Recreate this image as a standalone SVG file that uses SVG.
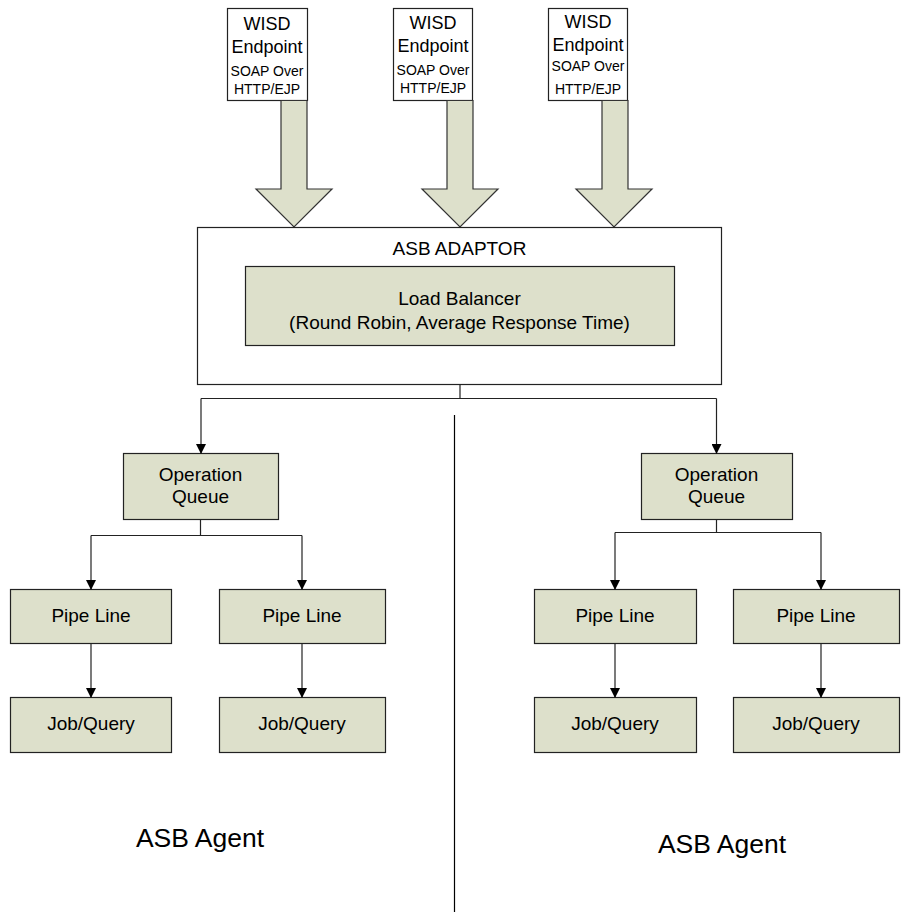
<svg xmlns="http://www.w3.org/2000/svg" width="901" height="913" viewBox="0 0 901 913">
<defs>
<marker id="ah" markerWidth="10" markerHeight="10" refX="9" refY="5" orient="auto" markerUnits="userSpaceOnUse">
<path d="M0,0 L10,5 L0,10 Z" fill="#000"/>
</marker>
<style>
.box{fill:#fff;stroke:#222;stroke-width:1.2}
.g{fill:#dde0cb;stroke:#222;stroke-width:1.2}
.big{fill:#dde0cb;stroke:#333;stroke-width:1.2}
.t{font-family:"Liberation Sans",Arial,sans-serif;fill:#000;text-anchor:middle}
.f19{font-size:19px}
.f18{font-size:18px}
.f14{font-size:14px}
.f26{font-size:26.5px}
.c{fill:none;stroke:#222;stroke-width:1.2}
</style>
</defs>
<rect width="901" height="913" fill="#fff"/>

<g id="wisd1">
<rect class="box" x="227.5" y="8.5" width="80" height="92"/>
<text class="t f18" x="267" y="30">WISD</text>
<text class="t f18" x="267" y="53">Endpoint</text>
<text class="t f14" x="267" y="76">SOAP Over</text>
<text class="t f14" x="267" y="94">HTTP/EJP</text>
</g>
<g id="wisd2">
<rect class="box" x="393.5" y="8.5" width="79" height="92"/>
<text class="t f18" x="433" y="29">WISD</text>
<text class="t f18" x="433" y="52">Endpoint</text>
<text class="t f14" x="433" y="75">SOAP Over</text>
<text class="t f14" x="433" y="93">HTTP/EJP</text>
</g>
<g id="wisd3">
<rect class="box" x="548.5" y="8.5" width="79" height="92"/>
<text class="t f18" x="588" y="28">WISD</text>
<text class="t f18" x="588" y="51">Endpoint</text>
<text class="t f14" x="588" y="71">SOAP Over</text>
<text class="t f14" x="588" y="94">HTTP/EJP</text>
</g>

<g id="bigarrows">
<polygon class="big" points="281,100.5 307,100.5 307,189 332,189 294,227 256,189 281,189"/>
<polygon class="big" points="447,100.5 473,100.5 473,189 498,189 460,227 422,189 447,189"/>
<polygon class="big" points="602,100.5 628,100.5 628,189 652,189 614,227 576,189 602,189"/>
</g>

<g id="adaptor">
<rect class="box" x="197.5" y="227.5" width="524" height="157"/>
<text class="t f19" x="459.5" y="255">ASB ADAPTOR</text>
</g>
<g id="loadbalancer">
<rect class="g" x="245.5" y="266.5" width="429" height="79"/>
<text class="t f19" x="459.5" y="305">Load Balancer</text>
<text class="t f19" x="459.5" y="329">(Round Robin, Average Response Time)</text>
</g>

<g id="oq1">
<rect class="g" x="123.5" y="453.5" width="155" height="66"/>
<text class="t f19" x="200.5" y="481">Operation</text>
<text class="t f19" x="200.5" y="503">Queue</text>
</g>
<g id="oq2">
<rect class="g" x="641.5" y="453.5" width="151" height="66"/>
<text class="t f19" x="716.5" y="481">Operation</text>
<text class="t f19" x="716.5" y="503">Queue</text>
</g>

<g id="pipe1">
<rect class="g" x="10.5" y="589.5" width="161" height="54"/>
<text class="t f19" x="91" y="622">Pipe Line</text>
</g>
<g id="pipe2">
<rect class="g" x="219.5" y="589.5" width="166" height="54"/>
<text class="t f19" x="302" y="622">Pipe Line</text>
</g>
<g id="pipe3">
<rect class="g" x="534.5" y="589.5" width="162" height="54"/>
<text class="t f19" x="615" y="622">Pipe Line</text>
</g>
<g id="pipe4">
<rect class="g" x="733.5" y="589.5" width="166" height="54"/>
<text class="t f19" x="816" y="622">Pipe Line</text>
</g>

<g id="job1">
<rect class="g" x="10.5" y="697.5" width="161" height="55"/>
<text class="t f19" x="91" y="730">Job/Query</text>
</g>
<g id="job2">
<rect class="g" x="219.5" y="697.5" width="166" height="55"/>
<text class="t f19" x="302" y="730">Job/Query</text>
</g>
<g id="job3">
<rect class="g" x="534.5" y="697.5" width="162" height="55"/>
<text class="t f19" x="615" y="730">Job/Query</text>
</g>
<g id="job4">
<rect class="g" x="733.5" y="697.5" width="166" height="55"/>
<text class="t f19" x="816" y="730">Job/Query</text>
</g>

<g id="connectors">
<path class="c" d="M460,384.5 V398.5 M201,398.5 H716.5"/>
<path class="c" d="M201,398.5 V453" marker-end="url(#ah)"/>
<path class="c" d="M716.5,398.5 V453" marker-end="url(#ah)"/>
<path class="c" d="M200.5,519.5 V535.5 M91,535.5 H302"/>
<path class="c" d="M91,535.5 V589" marker-end="url(#ah)"/>
<path class="c" d="M302,535.5 V589" marker-end="url(#ah)"/>
<path class="c" d="M716.5,519.5 V532.5 M615,532.5 H821"/>
<path class="c" d="M615,532.5 V589" marker-end="url(#ah)"/>
<path class="c" d="M821,532.5 V589" marker-end="url(#ah)"/>
<path class="c" d="M91,643.5 V697" marker-end="url(#ah)"/>
<path class="c" d="M302,643.5 V697" marker-end="url(#ah)"/>
<path class="c" d="M615,643.5 V697" marker-end="url(#ah)"/>
<path class="c" d="M821,643.5 V697" marker-end="url(#ah)"/>
</g>

<g id="divider">
<line x1="454.5" y1="415" x2="454.5" y2="912" stroke="#000" stroke-width="1.2"/>
</g>

<g id="labels">
<text class="t f26" x="200" y="847">ASB Agent</text>
<text class="t f26" x="722" y="853">ASB Agent</text>
</g>
</svg>
